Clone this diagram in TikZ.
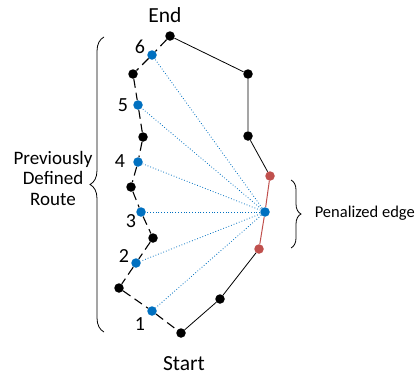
\documentclass[tikz,border=0pt]{standalone}
\usepackage{fontspec}
\setmainfont{Carlito}
\usetikzlibrary{decorations.pathreplacing}
\definecolor{routeblue}{RGB}{0,112,192}
\definecolor{penred}{RGB}{192,80,77}

\begin{document}
\begin{tikzpicture}
[x=1pt,y=-1pt,%
  dot/.style={shape=circle,inner sep=0pt,minimum size=9.5pt,fill=black},%
  bluedot/.style={dot,fill=routeblue},%
  reddot/.style={dot,fill=penred},%
  oldroute/.style={dash pattern=on 9pt off 5pt,line width=1.1pt},%
  newroute/.style={line width=0.8pt},%
  link/.style={routeblue,dotted,line width=0.8pt},%
  num/.style={font=\fontsize{20}{20}\selectfont},%
  txt/.style={font=\fontsize{19}{20.5}\selectfont,align=center},%
  bigtxt/.style={font=\fontsize{21.5}{22}\selectfont}]
\useasboundingbox (0,0) rectangle (419,375);
% route nodes
\node[dot] (end) at (170,36) {};
\node[dot] (a1) at (133,74) {};
\node[dot] (a2) at (143,137) {};
\node[dot] (a3) at (131,187) {};
\node[dot] (a4) at (153,238) {};
\node[dot] (a5) at (119,288) {};
\node[dot] (start) at (181,333) {};
\node[bluedot] (p6) at (152,55) {};
\node[bluedot] (p5) at (138,105) {};
\node[bluedot] (p4) at (138,162) {};
\node[bluedot] (p3) at (141,212) {};
\node[bluedot] (p2) at (136,263) {};
\node[bluedot] (p1) at (152,311) {};
\node[dot] (b1) at (248,74) {};
\node[dot] (b2) at (248,136) {};
\node[reddot] (r1) at (270,176) {};
\node[bluedot] (mid) at (265,212) {};
\node[reddot] (r2) at (259,249) {};
\node[dot] (b3) at (220,299) {};
% previously defined route
\draw[oldroute] (end) -- (p6) -- (a1) -- (p5) -- (a2) -- (p4) -- (a3)
  -- (p3) -- (a4) -- (p2) -- (a5) -- (p1) -- (start);
% new route
\draw[newroute] (end) -- (b1) -- (b2) -- (r1);
\draw[newroute] (r2) -- (b3) -- (start);
\draw[penred,line width=1pt] (r1) -- (mid) -- (r2);
% links to the route
\foreach \p in {p1,p2,p3,p4,p5,p6}
  \draw[link] (mid) -- (\p);
% labels
\node[num] (n6) at (140,47) {6};
\node[num] (n5) at (123,105) {5};
\node[num] (n4) at (120,161) {4};
\node[num] (n3) at (131,221) {3};
\node[num] (n2) at (124,256) {2};
\node[num] (n1) at (140,324) {1};
\node[bigtxt] (endlbl) at (165,15) {End};
\node[bigtxt] (startlbl) at (184,364) {Start};
\node[txt] (prev) at (53,178) {Previously\\Defined\\Route};
\node[txt,anchor=east,inner sep=0pt,font=\fontsize{16.5}{20}\selectfont] (pen) at (415,213) {Penalized edge};
% braces
\coordinate (lb1) at (104,332);
\coordinate (lb2) at (104,37);
\coordinate (rb1) at (291,180);
\coordinate (rb2) at (291,248);
\draw[decorate,decoration={brace,amplitude=14pt},line width=0.8pt] (lb1) -- (lb2);
\draw[decorate,decoration={brace,amplitude=10pt},line width=0.8pt] (rb1) -- (rb2);
\end{tikzpicture}
\end{document}
